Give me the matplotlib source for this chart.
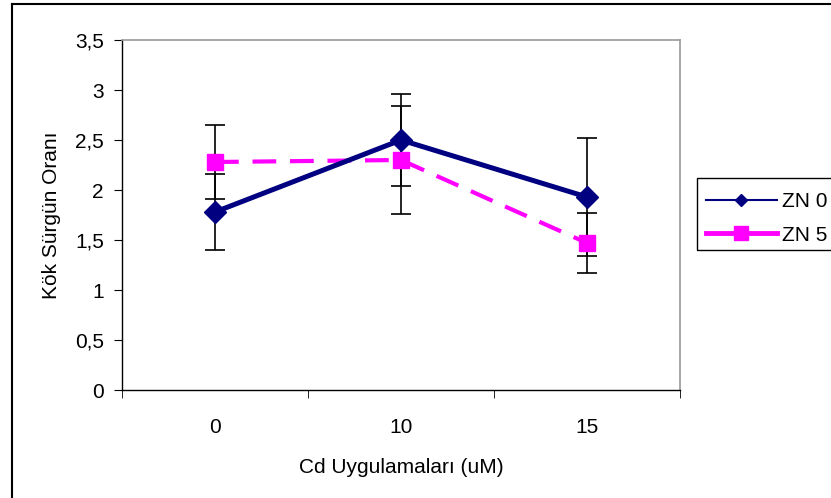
import matplotlib.pyplot as plt
import numpy as np
from matplotlib.lines import Line2D
from matplotlib.patches import Rectangle

plt.rcParams['font.family'] = ['Liberation Sans', 'DejaVu Sans']

#====================DATA====================

categories = ["0", "10", "15"]
zn0 = [1.78, 2.50, 1.93]
zn0_err = [0.38, 0.46, 0.59]
zn5 = [2.28, 2.30, 1.47]
zn5_err = [0.37, 0.54, 0.30]
y_ticks = [0, 0.5, 1, 1.5, 2, 2.5, 3, 3.5]
y_labels = ["0", "0,5", "1", "1,5", "2", "2,5", "3", "3,5"]

FS = 15

#====================PLOT====================

fig = plt.figure(figsize=(8.31, 4.98), dpi=100)
ax = fig.add_axes([122 / 831, 108 / 498, 558 / 831, 350 / 498])

x = np.arange(len(categories))

ax.errorbar(x, zn0, yerr=zn0_err, fmt="none", ecolor="black", elinewidth=1.2,
            capsize=7, capthick=1.2, zorder=2)
ax.errorbar(x, zn5, yerr=zn5_err, fmt="none", ecolor="black", elinewidth=1.2,
            capsize=7, capthick=1.2, zorder=2)
ax.plot(x, zn0, color="#000080", lw=3.6, marker="D", markersize=11,
        zorder=4)
ax.plot(x, zn5, color="#FF00FF", lw=3.0, ls=(0, (5.7, 3.3)), marker="s",
        markersize=12, zorder=3)

ax.set_xlim(-0.5, 2.5)
ax.set_ylim(0, 3.5)
ax.set_yticks(y_ticks)
ax.set_yticklabels(y_labels, fontsize=FS)
ax.set_xticks(x)
ax.set_xticklabels(categories, fontsize=FS)
ax.set_xticks([-0.5, 0.5, 1.5, 2.5], minor=True)
ax.tick_params(axis="x", which="major", length=0, pad=20)
ax.tick_params(axis="x", which="minor", length=6, direction="out")
ax.tick_params(axis="y", length=6, direction="out", pad=7)

for side in ["top", "right"]:
    ax.spines[side].set_color("#999999")
    ax.spines[side].set_linewidth(1.2)
for side in ["left", "bottom"]:
    ax.spines[side].set_linewidth(1.0)

ax.set_xlabel("Cd Uygulamaları (uM)", fontsize=FS)
ax.set_ylabel("Kök Sürgün Oranı", fontsize=FS)
ax.xaxis.set_label_coords(0.5, -0.195)
ax.yaxis.set_label_coords(-0.11, 0.5)

# outer chart border (left and top visible)
fig.add_artist(Line2D([12 / 831, 12 / 831], [0, 1 - 4 / 498],
                      transform=fig.transFigure, color="black", lw=1.5))
fig.add_artist(Line2D([12 / 831, 1], [1 - 4 / 498, 1 - 4 / 498],
                      transform=fig.transFigure, color="black", lw=1.5))

# legend
fig.add_artist(Rectangle((697 / 831, 1 - 250 / 498), 200 / 831, 72 / 498,
                         transform=fig.transFigure, fill=False,
                         edgecolor="black", lw=1.0))
legend_handles = [
    Line2D([], [], color="#000080", lw=1.5, marker="D", markersize=6),
    Line2D([], [], color="#FF00FF", lw=3.5, marker="s", markersize=10),
]
fig.legend(legend_handles, ["ZN 0", "ZN 5"], loc="upper left",
           bbox_to_anchor=(706 / 831, 1 - 192 / 498), frameon=False,
           fontsize=FS, handlelength=3.4, handletextpad=0.24,
           labelspacing=0.7, borderpad=0, borderaxespad=0)

plt.savefig("out.png", dpi=100)
